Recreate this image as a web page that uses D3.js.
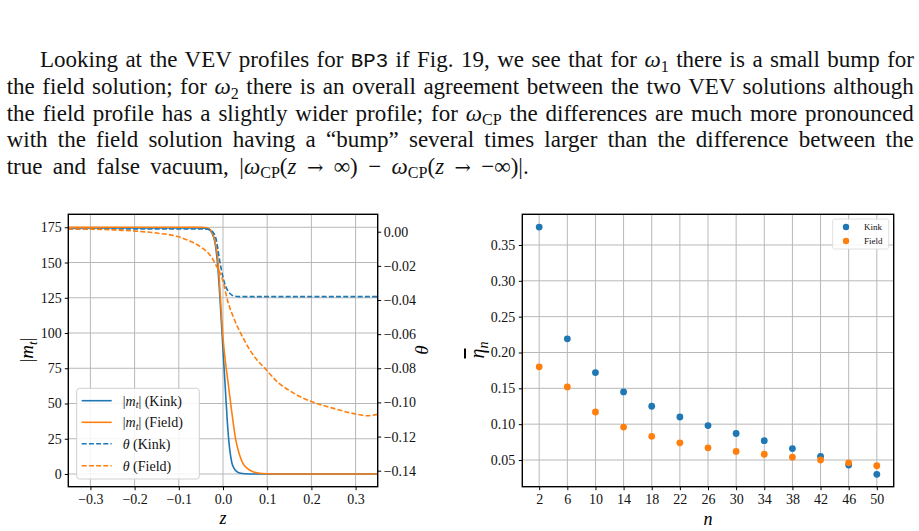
<!DOCTYPE html>
<html><head><meta charset="utf-8">
<script src="https://cdn.jsdelivr.net/npm/d3@7"></script>
<style>
html,body{margin:0;padding:0;background:#fff;width:919px;height:531px;overflow:hidden;position:relative;}
#para{position:absolute;left:0;top:0;width:919px;height:200px;font-family:"Liberation Serif",serif;font-size:23px;color:#111;}
.ln{position:absolute;text-align:justify;text-align-last:justify;line-height:26.5px;height:26.5px;white-space:nowrap;}
.sb{font-size:0.7em;position:relative;top:0.3em;line-height:0;}
.tt{font-family:"Liberation Mono",monospace;font-size:0.9em;}
.ar{font-family:"DejaVu Serif",serif;font-size:0.85em;}
svg{position:absolute;left:0;top:0;}
</style></head>
<body>
<div id="para">
<div class="ln" style="left:40px;width:874px;top:47px">Looking at the VEV profiles for <span class="tt">BP3</span> if Fig. 19, we see that for <i>ω</i><span class="sb">1</span> there is a small bump for</div>
<div class="ln" style="left:6.7px;width:907px;top:74px">the field solution; for <i>ω</i><span class="sb">2</span> there is an overall agreement between the two VEV solutions although</div>
<div class="ln" style="left:6.7px;width:907px;top:100.5px">the field profile has a slightly wider profile; for <i>ω</i><span class="sb">CP</span> the differences are much more pronounced</div>
<div class="ln" style="left:6.7px;width:907px;top:127px">with the field solution having a “bump” several times larger than the difference between the</div>
<div class="ln" style="left:6.7px;width:522px;top:153.5px">true and false vacuum, |<i>ω</i><span class="sb">CP</span>(<i>z</i> <span class="ar">→</span> ∞) − <i>ω</i><span class="sb">CP</span>(<i>z</i> <span class="ar">→</span> −∞)|.</div>
</div>
<script>
// ---------- DATA ----------
// Left panel: VEV profiles
const zTicks = [-0.3, -0.2, -0.1, 0.0, 0.1, 0.2, 0.3];
const zTickLabels = ["−0.3", "−0.2", "−0.1", "0.0", "0.1", "0.2", "0.3"];
const mTicks = [0, 25, 50, 75, 100, 125, 150, 175];
const mTickLabels = ["0", "25", "50", "75", "100", "125", "150", "175"];
const thTicks = [0.00, -0.02, -0.04, -0.06, -0.08, -0.10, -0.12, -0.14];
const thTickLabels = ["0.00", "−0.02", "−0.04", "−0.06", "−0.08", "−0.10", "−0.12", "−0.14"];

const zMtKink = [-0.35, -0.05, -0.035, -0.025, -0.018, -0.012, -0.006, 0, 0.005, 0.01, 0.015, 0.02, 0.025, 0.03, 0.04, 0.05, 0.07, 0.35];
const mtKink  = [174.5, 174.5, 174, 171, 164, 148, 120, 88, 62, 36, 18, 8, 4, 2, 0.5, 0.15, 0, 0];

const zMtField = [-0.35, -0.05, -0.035, -0.028, -0.019, -0.011, -0.006, 0, 0.005, 0.011, 0.019, 0.029, 0.037, 0.045, 0.055, 0.068, 0.08, 0.1, 0.13, 0.35];
const mtField  = [175, 175, 174.5, 173, 166, 150, 126, 97, 81, 66, 46, 24, 14, 7.6, 4, 1.6, 0.7, 0.2, 0, 0];

const zThKink = [-0.35, -0.04, -0.03, -0.022, -0.015, -0.0075, 0, 0.006, 0.011, 0.017, 0.023, 0.035, 0.35];
const thKink  = [0.0016, 0.0016, 0.0012, -0.0005, -0.005, -0.017, -0.0267, -0.032, -0.0346, -0.0365, -0.0375, -0.038, -0.038];

const zThField = [-0.35, -0.3, -0.25, -0.2, -0.15, -0.1, -0.075, -0.05, -0.03, -0.015, 0, 0.01, 0.025, 0.045, 0.065, 0.1, 0.125, 0.15, 0.175, 0.2, 0.25, 0.3, 0.325, 0.35];
const thField  = [0.0016, 0.0015, 0.0011, 0.0004, -0.0008, -0.003, -0.0055, -0.009, -0.0135, -0.020, -0.029, -0.040, -0.051, -0.062, -0.071, -0.0815, -0.0885, -0.093, -0.0967, -0.0995, -0.1035, -0.1068, -0.1078, -0.107];

// Right panel: eta_n
const nValues = [2, 6, 10, 14, 18, 22, 26, 30, 34, 38, 42, 46, 50];
const etaKink  = [0.375, 0.219, 0.172, 0.145, 0.125, 0.110, 0.098, 0.087, 0.077, 0.066, 0.055, 0.043, 0.030];
const etaField = [0.180, 0.152, 0.117, 0.096, 0.083, 0.074, 0.067, 0.062, 0.058, 0.054, 0.050, 0.046, 0.042];
const etaTicks = [0.05, 0.10, 0.15, 0.20, 0.25, 0.30, 0.35];
const etaTickLabels = ["0.05", "0.10", "0.15", "0.20", "0.25", "0.30", "0.35"];

// ---------- DRAW ----------
const BLUE = "#1f77b4", ORANGE = "#ff7f0e", GRID = "#b8b8b8";
const FONT = "'Liberation Serif', serif";
const svg = d3.select("body").append("svg").attr("width", 919).attr("height", 531);

function styleAxis(g, fs) {
  g.select(".domain").remove();
  g.selectAll(".tick line").attr("stroke", "#000").attr("stroke-width", 1);
  g.selectAll(".tick text").attr("font-family", FONT).attr("font-size", fs).attr("fill", "#111");
}

// ===== Left panel =====
const L = {x0: 68.3, x1: 377.7, y0: 214.3, y1: 486.7};
const x = d3.scaleLinear().domain([-0.35, 0.35]).range([L.x0, L.x1]);
const yM = d3.scaleLinear().domain([-9.0, 184.2]).range([L.y1, L.y0]);
const yT = d3.scaleLinear().domain([-0.14938, 0.0102]).range([L.y1, L.y0]);

const gl = svg.append("g");
gl.append("defs").append("clipPath").attr("id", "clipL")
  .append("rect").attr("x", L.x0).attr("y", L.y0).attr("width", L.x1 - L.x0).attr("height", L.y1 - L.y0);

// grid
gl.append("g").selectAll("line").data(zTicks).join("line")
  .attr("x1", d => x(d)).attr("x2", d => x(d)).attr("y1", L.y0).attr("y2", L.y1)
  .attr("stroke", GRID).attr("stroke-width", 1);
gl.append("g").selectAll("line").data(mTicks).join("line")
  .attr("x1", L.x0).attr("x2", L.x1).attr("y1", d => yM(d)).attr("y2", d => yM(d))
  .attr("stroke", GRID).attr("stroke-width", 1);

// axes
styleAxis(gl.append("g").attr("transform", `translate(0,${L.y1})`)
  .call(d3.axisBottom(x).tickValues(zTicks).tickFormat((d, i) => zTickLabels[i]).tickSize(3.5).tickPadding(4)), 14);
styleAxis(gl.append("g").attr("transform", `translate(${L.x0},0)`)
  .call(d3.axisLeft(yM).tickValues(mTicks).tickFormat((d, i) => mTickLabels[i]).tickSize(3.5).tickPadding(3)), 14);
styleAxis(gl.append("g").attr("transform", `translate(${L.x1},0)`)
  .call(d3.axisRight(yT).tickValues(thTicks).tickFormat((d, i) => thTickLabels[i]).tickSize(3.5).tickPadding(2.5)), 14);

// curves
const lineM = d3.line().x(d => x(d[0])).y(d => yM(d[1])).curve(d3.curveMonotoneX);
const lineT = d3.line().x(d => x(d[0])).y(d => yT(d[1])).curve(d3.curveMonotoneX);
const curves = gl.append("g").attr("clip-path", "url(#clipL)");
curves.append("path").datum(d3.zip(zMtKink, mtKink)).attr("d", lineM)
  .attr("fill", "none").attr("stroke", BLUE).attr("stroke-width", 1.6);
curves.append("path").datum(d3.zip(zMtField, mtField)).attr("d", lineM)
  .attr("fill", "none").attr("stroke", ORANGE).attr("stroke-width", 1.6);
curves.append("path").datum(d3.zip(zThKink, thKink)).attr("d", lineT)
  .attr("fill", "none").attr("stroke", BLUE).attr("stroke-width", 1.6).attr("stroke-dasharray", "5,2.2");
curves.append("path").datum(d3.zip(zThField, thField)).attr("d", lineT)
  .attr("fill", "none").attr("stroke", ORANGE).attr("stroke-width", 1.6).attr("stroke-dasharray", "5,2.2");

// frame
gl.append("rect").attr("x", L.x0).attr("y", L.y0).attr("width", L.x1 - L.x0).attr("height", L.y1 - L.y0)
  .attr("fill", "none").attr("stroke", "#000").attr("stroke-width", 1.4);

// axis labels
gl.append("text").attr("x", x(0)).attr("y", 524).attr("text-anchor", "middle")
  .attr("font-family", FONT).attr("font-size", 18).attr("font-style", "italic").text("z");
const ml = gl.append("text").attr("transform", "translate(33,350) rotate(-90)").attr("text-anchor", "middle")
  .attr("font-family", FONT).attr("font-size", 19);
ml.append("tspan").text("|");
ml.append("tspan").attr("font-style", "italic").text("m");
ml.append("tspan").attr("font-style", "italic").attr("font-size", 13).attr("dy", 4).text("t");
ml.append("tspan").attr("dy", -4).text("|");
gl.append("text").attr("transform", "translate(428,350) rotate(-90)").attr("text-anchor", "middle")
  .attr("font-family", FONT).attr("font-size", 19).attr("font-style", "italic").text("θ");

// legend
const lg = gl.append("g");
lg.append("rect").attr("x", 76.7).attr("y", 388.3).attr("width", 122.6).attr("height", 90.7).attr("rx", 3)
  .attr("fill", "#fff").attr("fill-opacity", 0.85).attr("stroke", "#d0d0d0").attr("stroke-width", 1);
const legItems = [
  {c: BLUE, dash: null, kind: "m", lab: "Kink"},
  {c: ORANGE, dash: null, kind: "m", lab: "Field"},
  {c: BLUE, dash: "5,2.2", kind: "t", lab: "Kink"},
  {c: ORANGE, dash: "5,2.2", kind: "t", lab: "Field"}
];
const rowsY = [400.7, 422.3, 443.7, 465.7];
legItems.forEach((it, i) => {
  const yy = rowsY[i];
  lg.append("line").attr("x1", 81.7).attr("x2", 111.7).attr("y1", yy).attr("y2", yy)
    .attr("stroke", it.c).attr("stroke-width", 1.6).attr("stroke-dasharray", it.dash);
  const t = lg.append("text").attr("x", 122.7).attr("y", yy + 4.8).attr("font-family", FONT).attr("font-size", 14).attr("fill", "#111");
  if (it.kind === "m") {
    t.append("tspan").text("|");
    t.append("tspan").attr("font-style", "italic").text("m");
    t.append("tspan").attr("font-style", "italic").attr("font-size", 10).attr("dy", 2.5).text("t");
    t.append("tspan").attr("dy", -2.5).text("| (" + it.lab + ")");
  } else {
    t.append("tspan").attr("font-style", "italic").text("θ");
    t.append("tspan").text(" (" + it.lab + ")");
  }
});

// ===== Right panel =====
const R = {x0: 522.3, x1: 893.7, y0: 214.3, y1: 486.7};
const xn = d3.scaleLinear().domain([-0.4, 52.4]).range([R.x0, R.x1]);
const ye = d3.scaleLinear().domain([0.01275, 0.3928]).range([R.y1, R.y0]);
const gr = svg.append("g");

gr.append("g").selectAll("line").data(nValues).join("line")
  .attr("x1", d => xn(d)).attr("x2", d => xn(d)).attr("y1", R.y0).attr("y2", R.y1)
  .attr("stroke", GRID).attr("stroke-width", 1);
gr.append("g").selectAll("line").data(etaTicks).join("line")
  .attr("x1", R.x0).attr("x2", R.x1).attr("y1", d => ye(d)).attr("y2", d => ye(d))
  .attr("stroke", GRID).attr("stroke-width", 1);

styleAxis(gr.append("g").attr("transform", `translate(0,${R.y1})`)
  .call(d3.axisBottom(xn).tickValues(nValues).tickFormat(d => String(d)).tickSize(3.5).tickPadding(4)), 14);
styleAxis(gr.append("g").attr("transform", `translate(${R.x0},0)`)
  .call(d3.axisLeft(ye).tickValues(etaTicks).tickFormat((d, i) => etaTickLabels[i]).tickSize(3.5).tickPadding(3.5)), 14);

gr.append("g").selectAll("circle").data(d3.zip(nValues, etaKink)).join("circle")
  .attr("cx", d => xn(d[0])).attr("cy", d => ye(d[1])).attr("r", 3.4).attr("fill", BLUE);
gr.append("g").selectAll("circle").data(d3.zip(nValues, etaField)).join("circle")
  .attr("cx", d => xn(d[0])).attr("cy", d => ye(d[1])).attr("r", 3.4).attr("fill", ORANGE);

gr.append("rect").attr("x", R.x0).attr("y", R.y0).attr("width", R.x1 - R.x0).attr("height", R.y1 - R.y0)
  .attr("fill", "none").attr("stroke", "#000").attr("stroke-width", 1.4);

gr.append("text").attr("x", xn(26)).attr("y", 525).attr("text-anchor", "middle")
  .attr("font-family", FONT).attr("font-size", 18).attr("font-style", "italic").text("n");
const el = gr.append("text").attr("transform", "translate(484,350) rotate(-90)").attr("text-anchor", "middle")
  .attr("font-family", FONT).attr("font-size", 20);
el.append("tspan").attr("font-style", "italic").attr("text-decoration", "overline").text("η");
el.append("tspan").attr("font-style", "italic").attr("font-size", 14).attr("dy", 4).text("n");

// right legend
const rl = gr.append("g");
rl.append("rect").attr("x", 832.7).attr("y", 219).attr("width", 56).attr("height", 30).attr("rx", 2)
  .attr("fill", "#fff").attr("fill-opacity", 0.85).attr("stroke", "#d8d8d8").attr("stroke-width", 0.8);
[[BLUE, "Kink", 227], [ORANGE, "Field", 241]].forEach(([c, lab, yy]) => {
  rl.append("circle").attr("cx", 846).attr("cy", yy).attr("r", 3.2).attr("fill", c);
  rl.append("text").attr("x", 864).attr("y", yy + 3).attr("font-family", FONT).attr("font-size", 9).attr("fill", "#111").text(lab);
});
</script>
</body></html>
